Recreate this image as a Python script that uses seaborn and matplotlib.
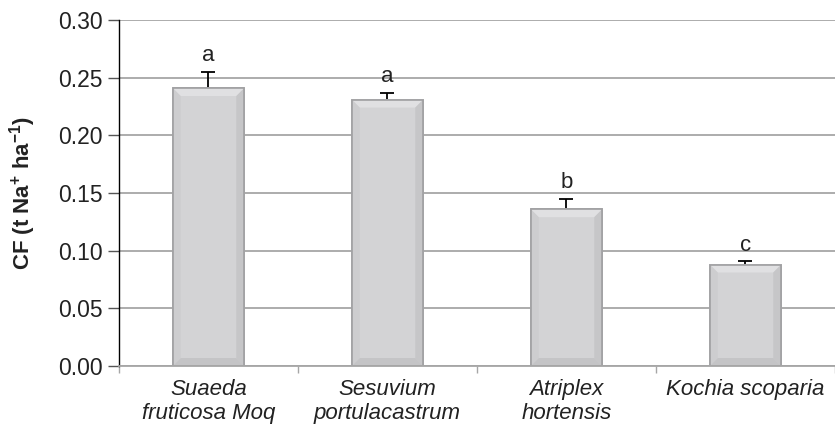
import matplotlib
matplotlib.use('Agg')
import matplotlib.pyplot as plt
from matplotlib.patches import Polygon
import seaborn as sns
import pandas as pd
import numpy as np

species = ['Suaeda\nfruticosa Moq', 'Sesuvium\nportulacastrum',
           'Atriplex\nhortensis', 'Kochia scoparia']
cf_values = [0.241, 0.231, 0.136, 0.088]
cf_err = [0.014, 0.006, 0.009, 0.003]
letters = ['a', 'a', 'b', 'c']

sns.set_style('white')
plt.rcParams['font.family'] = ['Liberation Sans', 'DejaVu Sans']
plt.rcParams['mathtext.fontset'] = 'custom'
plt.rcParams['mathtext.rm'] = 'Liberation Sans'
plt.rcParams['mathtext.bf'] = 'Liberation Sans:bold'
plt.rcParams['mathtext.default'] = 'bf'

df = pd.DataFrame({'species': species, 'cf': cf_values})

fig = plt.figure(figsize=(8.35, 4.33), dpi=100)
ax = fig.add_axes([0.1425, 0.1547, 0.8575, 0.7991])

ax.set_axisbelow(True)
ax.yaxis.grid(True, color='#a6a6a6', linewidth=1.3)

sns.barplot(data=df, x='species', y='cf', ax=ax, color='#d3d3d5',
            edgecolor='#a0a0a2', linewidth=1.2, width=0.4,
            saturation=1, errorbar=None, zorder=2)

ax.set_ylim(0, 0.30)
ax.set_xlim(-0.5, 3.5)

# soft bevel shading on each bar
px_x = 8 * (4.0 / (ax.get_window_extent().width))
px_y = 8 * (0.30 / (ax.get_window_extent().height))
for p in ax.patches:
    x0, y0 = p.get_x(), p.get_y()
    x1, y1 = x0 + p.get_width(), y0 + p.get_height()
    ix0, ix1, iy0, iy1 = x0 + px_x, x1 - px_x, y0 + px_y, y1 - px_y
    faces = [
        ([(x0, y1), (x1, y1), (ix1, iy1), (ix0, iy1)], '#e0e0e2'),
        ([(x0, y0), (x1, y0), (ix1, iy0), (ix0, iy0)], '#c4c4c6'),
        ([(x0, y0), (x0, y1), (ix0, iy1), (ix0, iy0)], '#cdcdcf'),
        ([(x1, y0), (x1, y1), (ix1, iy1), (ix1, iy0)], '#c6c6c8'),
    ]
    for pts, c in faces:
        ax.add_patch(Polygon(pts, closed=True, facecolor=c, edgecolor='none',
                             zorder=2.1))
    ax.add_patch(plt.Rectangle((x0, y0), x1 - x0, y1 - y0, fill=False,
                               edgecolor='#a0a0a2', linewidth=1.2, zorder=2.2))

# error bars drawn behind the bars so only the upper half shows
x = np.arange(len(cf_values))
ax.errorbar(x, cf_values, yerr=cf_err, fmt='none', ecolor='black',
            elinewidth=1.3, capsize=5, capthick=1.3, zorder=1)

for xi, v, e, lab in zip(x, cf_values, cf_err, letters):
    ax.annotate(lab, (xi, v + e), xytext=(0, 4), textcoords='offset points',
                ha='center', va='bottom', fontsize=16, color='#222222')

ax.set_yticks(np.arange(0, 0.301, 0.05))
ax.set_yticklabels([f'{t:.2f}' for t in np.arange(0, 0.301, 0.05)])
ax.tick_params(axis='y', labelsize=16.5, length=8, width=1, color='#555555',
               left=True, labelcolor='#222222', pad=4)
ax.tick_params(axis='x', which='major', length=0, labelsize=16,
               labelcolor='#222222', pad=9)
ax.set_xticks([-0.5, 0.5, 1.5, 2.5, 3.5], minor=True)
ax.tick_params(axis='x', which='minor', length=5, width=1, color='#a6a6a6',
               bottom=True)
for lbl in ax.get_xticklabels():
    lbl.set_style('italic')

ax.set_xlabel('')
ax.set_ylabel(r'CF (t Na$^{+}$ ha$^{-1}$)', fontsize=16, fontweight='bold',
              color='#222222', labelpad=14)

for s in ['top', 'right']:
    ax.spines[s].set_visible(False)
ax.spines['left'].set_color('black')
ax.spines['left'].set_linewidth(1)
ax.spines['bottom'].set_color('#a6a6a6')
ax.spines['bottom'].set_linewidth(1.3)

plt.savefig('out.png', dpi=100)
plt.close()
